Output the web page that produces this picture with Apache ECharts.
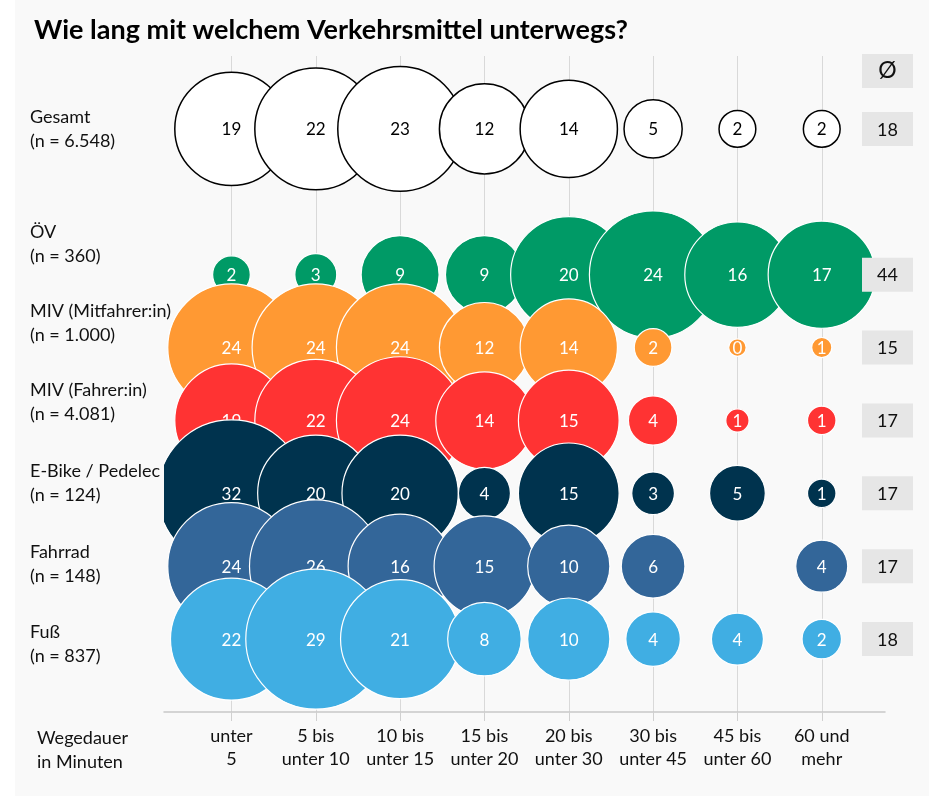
<!DOCTYPE html>
<html>
<head>
<meta charset="utf-8">
<script src="https://cdn.jsdelivr.net/npm/echarts@6/dist/echarts.min.js"></script>
<style>
  html, body { margin: 0; padding: 0; background: #fff; }
  #main { width: 929px; height: 796px; }
</style>
</head>
<body>
<div id="main"></div>
<script>
// Wegedauer-Klassen (x-Achse)
var durations = ['unter\n5', '5 bis\nunter 10', '10 bis\nunter 15', '15 bis\nunter 20', '20 bis\nunter 30', '30 bis\nunter 45', '45 bis\nunter 60', '60 und\nmehr'];

// Verkehrsmittel (Zeilen) und Stichproben
var modes = ['Gesamt', 'ÖV', 'MIV (Mitfahrer:in)', 'MIV (Fahrer:in)', 'E-Bike / Pedelec', 'Fahrrad', 'Fuß'];
var sampleSizes = ['6.548', '360', '1.000', '4.081', '124', '148', '837'];
var rowIndex = [0, 2, 3, 4, 5, 6, 7];

// Anteile in % (Beschriftung = gerundeter Wert)
var gesamt     = [19, 22, 23, 12, 14, 5, 2, 2];
var oev        = [2.1, 2.6, 9, 9, 20, 24, 16.4, 17];
var mivMit     = [24, 24, 24, 12, 14, 2.1, 0.45, 0.6];
var mivFahrer  = [19, 22, 24, 14, 15, 3.6, 0.8, 1.2];
var ebike      = [32, 20, 20, 4, 15, 2.7, 4.6, 1.2];
var fahrrad    = [24, 26, 16, 15, 10, 6, null, 4];
var fuss       = [22, 29, 21, 8, 10, 4.4, 4, 2.3];

// Durchschnittliche Wegedauer (Ø)
var averages = [18, 44, 15, 17, 17, 17, 18];

var rows = [gesamt, oev, mivMit, mivFahrer, ebike, fahrrad, fuss];
var fills = ['#ffffff', '#009a66', '#ff9933', '#ff3333', '#00334e', '#336699', '#40aee3'];
var strokes = ['#000000', '#ffffff', '#ffffff', '#ffffff', '#ffffff', '#ffffff', '#ffffff'];
var labelColors = ['#000000', '#ffffff', '#ffffff', '#ffffff', '#ffffff', '#ffffff', '#ffffff'];
var labelY = [129.5, 244.5, 323.5, 402, 483.5, 564.5, 644];

var FONT = 'Lato, "Noto Sans", sans-serif';

var myChart = echarts.init(document.getElementById('main'));

var series = rows.map(function (vals, r) {
    var data = [];
    vals.forEach(function (v, c) {
        if (v !== null) data.push([c, rowIndex[r], v]);
    });
    return {
        type: 'custom',
        name: modes[r],
        clip: true,
        z: 2 + r,
        animation: false,
        data: data,
        renderItem: function (params, api) {
            var p = api.coord([api.value(0), api.value(1)]);
            var v = api.value(2);
            var rad = 13 * Math.sqrt(v);
            return {
                type: 'group',
                children: [{
                    type: 'circle',
                    shape: { cx: p[0], cy: p[1], r: rad },
                    style: { fill: fills[r], stroke: strokes[r], lineWidth: r === 0 ? 1.5 : 1.2 }
                }, {
                    type: 'text',
                    x: p[0],
                    y: p[1] + 1,
                    style: {
                        text: String(Math.round(v)),
                        fill: labelColors[r],
                        font: '17px ' + FONT,
                        align: 'center',
                        verticalAlign: 'middle'
                    }
                }]
            };
        }
    };
});

// Ø-Spalte
series.push({
    type: 'custom',
    name: 'avg',
    clip: false,
    z: 20,
    animation: false,
    data: averages.map(function (a, r) { return [rowIndex[r], a]; }),
    renderItem: function (params, api) {
        var y = api.coord([0, api.value(0)])[1];
        return {
            type: 'group',
            children: [{
                type: 'rect',
                shape: { x: 862, y: y - 17, width: 51, height: 34 },
                style: { fill: '#e6e6e6' }
            }, {
                type: 'text',
                x: 887.5,
                y: y + 1,
                style: {
                    text: String(api.value(1)),
                    fill: '#111',
                    font: '18px ' + FONT,
                    align: 'center',
                    verticalAlign: 'middle'
                }
            }]
        };
    }
});

var graphics = [{
    type: 'rect',
    left: 15, top: 0, z: -10,
    shape: { width: 914, height: 796 },
    style: { fill: '#f9f9f9' }
}, {
    type: 'rect',
    left: 862, top: 54, z: 1,
    shape: { width: 51, height: 34 },
    style: { fill: '#e6e6e6' }
}, {
    type: 'text',
    x: 887.5, y: 71, z: 2,
    style: { text: 'Ø', font: '23px ' + FONT, fill: '#111', align: 'center', verticalAlign: 'middle' }
}, {
    type: 'text',
    x: 37, y: 750, z: 2,
    style: { text: 'Wegedauer\nin Minuten', font: '18px ' + FONT, fill: '#111', lineHeight: 24, verticalAlign: 'middle' }
}];
modes.forEach(function (m, r) {
    graphics.push({
        type: 'text',
        x: 30, y: labelY[r], z: 30,
        style: {
            text: m + '\n(n = ' + sampleSizes[r] + ')',
            font: '18px ' + FONT,
            fill: '#111',
            lineHeight: 24,
            verticalAlign: 'middle'
        }
    });
});

var option = {
    backgroundColor: '#ffffff',
    animation: false,
    title: {
        text: 'Wie lang mit welchem Verkehrsmittel unterwegs?',
        left: 29,
        top: 12,
        textStyle: { fontFamily: FONT, fontSize: 27, fontWeight: 'bold', color: '#000' }
    },
    grid: { left: 164, right: 44, top: 56, bottom: 84 },
    xAxis: {
        type: 'value',
        min: -0.8,
        max: 7.75,
        axisLine: { show: true, onZero: false, lineStyle: { color: '#c8c8c8', width: 1.5 } },
        axisTick: { show: true, customValues: [0, 1, 2, 3, 4, 5, 6, 7], length: 9, lineStyle: { color: '#d0d0d0' } },
        splitLine: { show: true, lineStyle: { color: '#d9d9d9', width: 1 } },
        axisLabel: {
            customValues: [0, 1, 2, 3, 4, 5, 6, 7],
            formatter: function (v) { return durations[Math.round(v)]; },
            margin: 13,
            fontFamily: FONT,
            fontSize: 18,
            lineHeight: 23,
            color: '#111'
        }
    },
    yAxis: {
        type: 'value',
        inverse: true,
        min: -1,
        max: 8,
        show: false
    },
    graphic: graphics,
    series: series
};
myChart.setOption(option);
</script>
</body>
</html>
